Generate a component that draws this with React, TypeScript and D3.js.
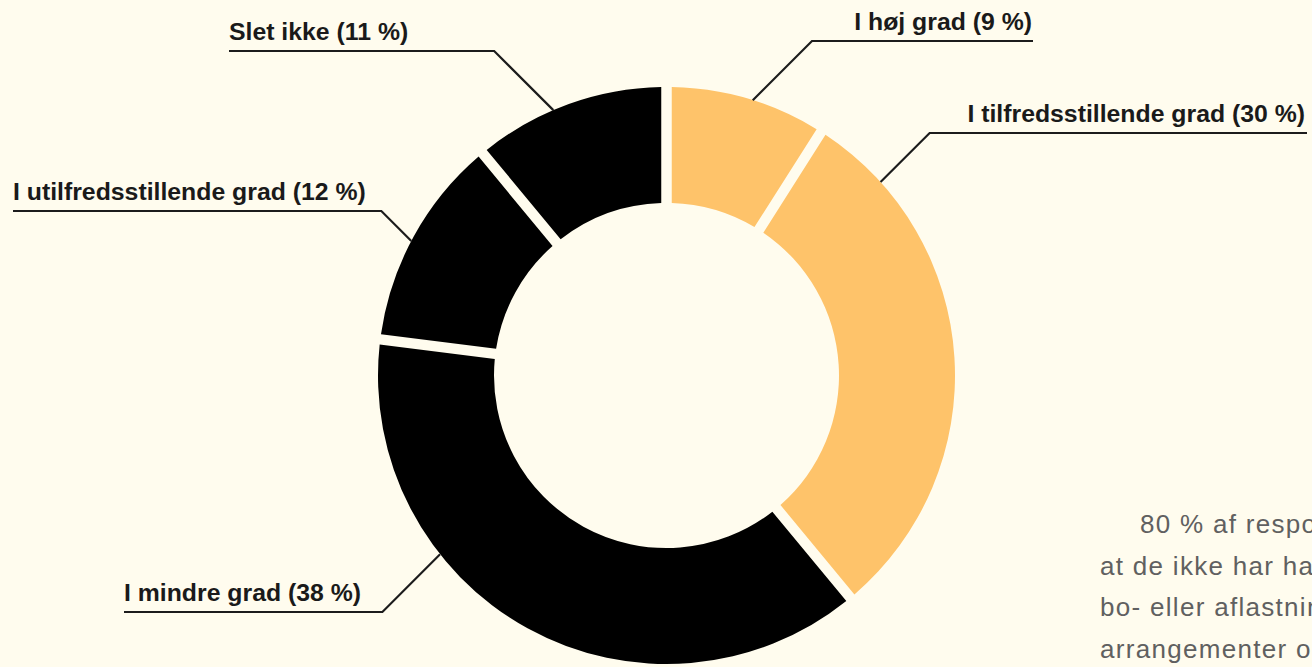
import React, { useEffect } from "react";
import * as d3 from "d3";

// ---- data ----
const categories = [
  "I høj grad",
  "I tilfredsstillende grad",
  "I mindre grad",
  "I utilfredsstillende grad",
  "Slet ikke",
];
const values = [9, 30, 38, 12, 11];
const groups = ["positive", "positive", "negative", "negative", "negative"];

const paragraphLines = [
  "80 % af respondenterne svarer,",
  "at de ikke har haft mulighed for",
  "bo- eller aflastningstilbud eller",
  "arrangementer og aktiviteter",
];

// ---- layout / style (not data) ----
const W = 1312;
const H = 667;
const CX = 666.5;
const CY = 375.5;
const R_OUT = 288.5;
const R_IN = 172.5;
const BG = "#FFFCEE";
const groupColor: Record<string, string> = { positive: "#FEC36A", negative: "#000000" };

// leader angle (deg, clockwise from top), underline y, side, text x (start for left, end for right)
const labelLayout = [
  { angle: 17.4, lineY: 41, side: "right", textX: 1032, lineEnd: 1033 },
  { angle: 47.9, lineY: 133, side: "right", textX: 1305, lineEnd: 1307 },
  { angle: 231.7, lineY: 612, side: "left", textX: 124, lineEnd: 124 },
  { angle: 297.8, lineY: 211, side: "left", textX: 13, lineEnd: 13 },
  { angle: 336.9, lineY: 51, side: "left", textX: 229, lineEnd: 229 },
];

export default function App() {
  useEffect(() => {
    document.body.style.margin = "0";
  }, []);

  const pie = d3
    .pie<number>()
    .sort(null)
    .value((d) => d);
  const arcs = pie(values);
  const arc = d3
    .arc<d3.PieArcDatum<number>>()
    .innerRadius(R_IN)
    .outerRadius(R_OUT)
    .padAngle(0.105)
    .padRadius(100);

  return (
    <svg
      width={W}
      height={H}
      viewBox={`0 0 ${W} ${H}`}
      style={{ position: "absolute", left: 0, top: 0, display: "block", overflow: "hidden" }}
    >
      <rect x={0} y={0} width={W} height={H} fill={BG} />
      <g transform={`translate(${CX},${CY})`}>
        {arcs.map((a, i) => (
          <path key={i} d={arc(a) || ""} fill={groupColor[groups[i]]} />
        ))}
      </g>
      {arcs.map((a, i) => {
        const L = labelLayout[i];
        const [px, py] = d3.pointRadial((L.angle * Math.PI) / 180, R_OUT);
        const x0 = CX + px;
        const y0 = CY + py;
        const dy = Math.abs(L.lineY - y0);
        const ex = L.side === "right" ? x0 + dy : x0 - dy;
        const pts: [number, number][] = [
          [x0, y0],
          [ex, L.lineY],
          [L.lineEnd, L.lineY],
        ];
        const line = d3.line()(pts) || "";
        const label = `${categories[i]} (${values[i]} %)`;
        return (
          <g key={"l" + i}>
            <path d={line} fill="none" stroke="#1c1c1c" strokeWidth={2.2} strokeLinejoin="miter" />
            <text
              x={L.textX}
              y={L.lineY - 11}
              textAnchor={L.side === "right" ? "end" : "start"}
              fontFamily="'Liberation Sans', Arial, Helvetica, sans-serif"
              fontWeight="bold"
              fontSize={24.8}
              fill="#1a1a1a"
            >
              {label}
            </text>
          </g>
        );
      })}
      {paragraphLines.map((t, i) => (
        <text
          key={"p" + i}
          x={i === 0 ? 1140 : 1100}
          y={533 + i * 41.7}
          fontFamily="'Liberation Sans', Arial, Helvetica, sans-serif"
          fontSize={26}
          letterSpacing={1.3}
          fill="#606060"
        >
          {t}
        </text>
      ))}
    </svg>
  );
}
